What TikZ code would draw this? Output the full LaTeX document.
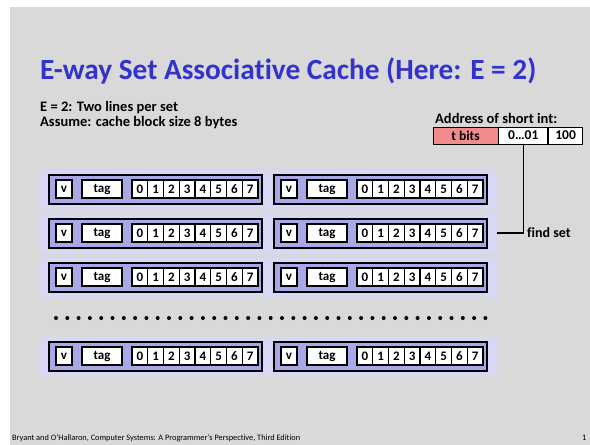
\documentclass[tikz,border=0pt]{standalone}
\usepackage{fontspec}
\setmainfont{Carlito}[Ligatures=CommonOff]
\definecolor{slidebg}{RGB}{217,217,217}
\definecolor{titleblue}{RGB}{51,51,204}
\definecolor{setband}{RGB}{216,216,246}
\definecolor{linefill}{RGB}{168,168,230}
\definecolor{tbitsfill}{RGB}{242,140,140}
\begin{document}
\begin{tikzpicture}[x=1pt,y=-1pt,
  band/.style={rectangle, fill=setband, minimum width=457.5pt, minimum height=39pt, inner sep=0pt},
  linebox/.style={rectangle, draw=black, line width=2pt, fill=linefill, minimum width=213pt, minimum height=29pt, inner sep=0pt, anchor=west},
  cell/.style={rectangle, draw=black, line width=1.4pt, fill=white, minimum height=18pt, inner sep=0pt, font=\bfseries\fontsize{13}{14}\selectfont},
  addr/.style={rectangle, draw=black, line width=0.8pt, minimum height=17pt, inner sep=0pt, font=\bfseries\fontsize{13.5}{14}\selectfont},
  plain/.style={inner sep=0pt, anchor=base west}]
\useasboundingbox (0,0) rectangle (590,445);
% slide background
\fill[slidebg] (10,7) rectangle (590,445);

% title and notes
\node[plain, text=titleblue, font=\bfseries\fontsize{29.3}{32}\selectfont] (title) at (40,79) {E-way Set Associative Cache (Here: E = 2)};
\node[plain, font=\bfseries\fontsize{14.5}{15}\selectfont] (note1) at (40,111) {E = 2: Two lines per set};
\node[plain, font=\bfseries\fontsize{14.5}{15}\selectfont] (note2) at (40,126) {Assume: cache block size 8 bytes};

% address fields
\node[plain, font=\bfseries\fontsize{14.5}{15}\selectfont] (addrlabel) at (435,123) {Address of short int:};
\node[addr, fill=tbitsfill, minimum width=65pt] (tbits) at (465.5,135.5) {t bits};
\node[addr, fill=white, minimum width=49pt, anchor=west] (setidx) at (tbits.east) {0…01};
\node[addr, fill=white, minimum width=34pt, anchor=west] (offs) at (setidx.east) {100};

% cache sets, two lines each
\foreach \r/\y in {1/189, 2/233, 3/277, 4/356} {
  \node[band] (set\r) at (268.25,\y) {};
  \foreach \w/\L in {1/48, 2/273} {
    \node[linebox] (ln\r\w) at (\L,\y) {};
    \node[cell, minimum width=16pt] (v\r\w) at (\L+16,\y) {v};
    \node[cell, minimum width=40pt] (tag\r\w) at (\L+54,\y) {tag};
    \foreach \b in {0,...,7}
      \node[cell, minimum width=15.75pt] (b\r\w\b) at (\L+91.875+15.75*\b,\y) {\b};
  }
}

% ellipsis row between sets
\foreach \i in {0,...,38}
  \fill (56+11.3*\i,318) circle (2);

% set selection
\draw[line width=1.3pt] (setidx.south) |- (set2.east);
\node[plain, anchor=west, font=\bfseries\fontsize{14}{15}\selectfont] (findset) at (527,233) {find set};

% footer
\node[plain, font=\fontsize{8.3}{9}\selectfont] (footer) at (12,440) {Bryant and O’Hallaron, Computer Systems: A Programmer’s Perspective, Third Edition};
\node[plain, font=\fontsize{8.3}{9}\selectfont] (page) at (582,440) {1};
\end{tikzpicture}
\end{document}
